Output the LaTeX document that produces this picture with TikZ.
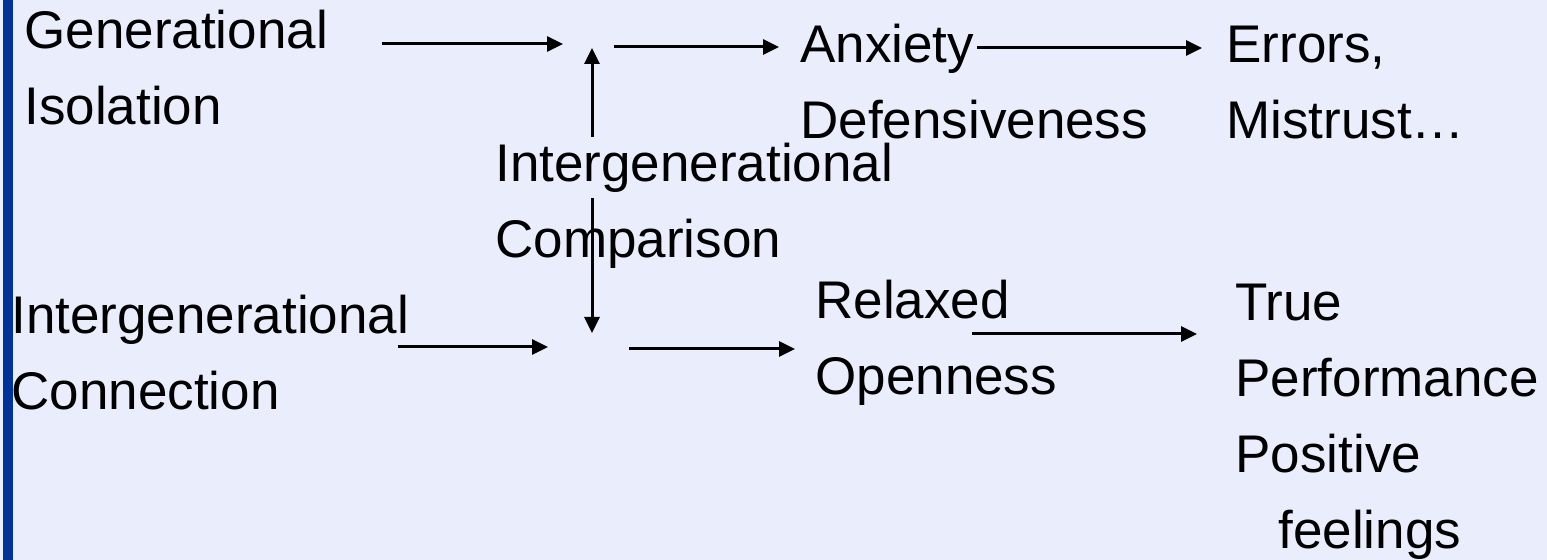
\documentclass[tikz,border=0pt]{standalone}
\usepackage{fontspec}
\setmainfont{Liberation Sans}
\usetikzlibrary{arrows.meta}
\definecolor{slidebg}{RGB}{234,237,252}
\definecolor{slidebar}{RGB}{0,51,153}
\tikzset{
  lbl/.style={anchor=base west, inner sep=0pt, align=left, font=\fontsize{26.5}{38}\selectfont},
  arr/.style={line width=1.5pt, -{Triangle[length=8pt,width=7.5pt]}}
}
\begin{document}
\begin{tikzpicture}[x=0.5pt,y=-0.5pt]
        \useasboundingbox (0,0) rectangle (1547,560);
        \fill [slidebg] (0,0) rectangle (1547,560);
        \fill [slidebar] (3,0) rectangle (13,560);
        % texts (placed at the baseline of their last line)
        \node [lbl] (gen) at (24,125) {Generational\\Isolation};
        \node [lbl] (anx) at (800,139) {Anxiety\\Defensiveness};
        \node [lbl] (err) at (1226,139) {Errors,\\Mistrust…};
        \node [lbl] (cmp) at (495,258) {Intergenerational\\Comparison};
        \node [lbl] (con) at (11,410) {Intergenerational\\Connection};
        \node [lbl] (rel) at (815,395) {Relaxed\\Openness};
        \node [lbl] (tru) at (1235,549) {True\\Performance\\Positive\\\hspace{21.5pt}feelings};
        % arrow ends
        \coordinate (genout) at (382,44);
        \coordinate (topin) at (563,44);
        \coordinate (topout) at (614,47);
        \coordinate (anxin) at (779,47);
        \coordinate (anxout) at (977,48);
        \coordinate (errin) at (1202,48);
        \coordinate (cmpup) at (592,137);
        \coordinate (topj) at (592,48);
        \coordinate (cmpdown) at (592,198);
        \coordinate (botj) at (592,333);
        \coordinate (conout) at (398,347);
        \coordinate (botin) at (548,347);
        \coordinate (botout) at (629,349);
        \coordinate (relin) at (795,349);
        \coordinate (relout) at (972,334);
        \coordinate (truin) at (1197,334);
        % arrows
        \draw [arr] (genout) -- (topin);
        \draw [arr] (topout) -- (anxin);
        \draw [arr] (anxout) -- (errin);
        \draw [arr] (cmpup) -- (topj);
        \draw [arr] (cmpdown) -- (botj);
        \draw [arr] (conout) -- (botin);
        \draw [arr] (botout) -- (relin);
        \draw [arr] (relout) -- (truin);
    \end{tikzpicture}
\end{document}
